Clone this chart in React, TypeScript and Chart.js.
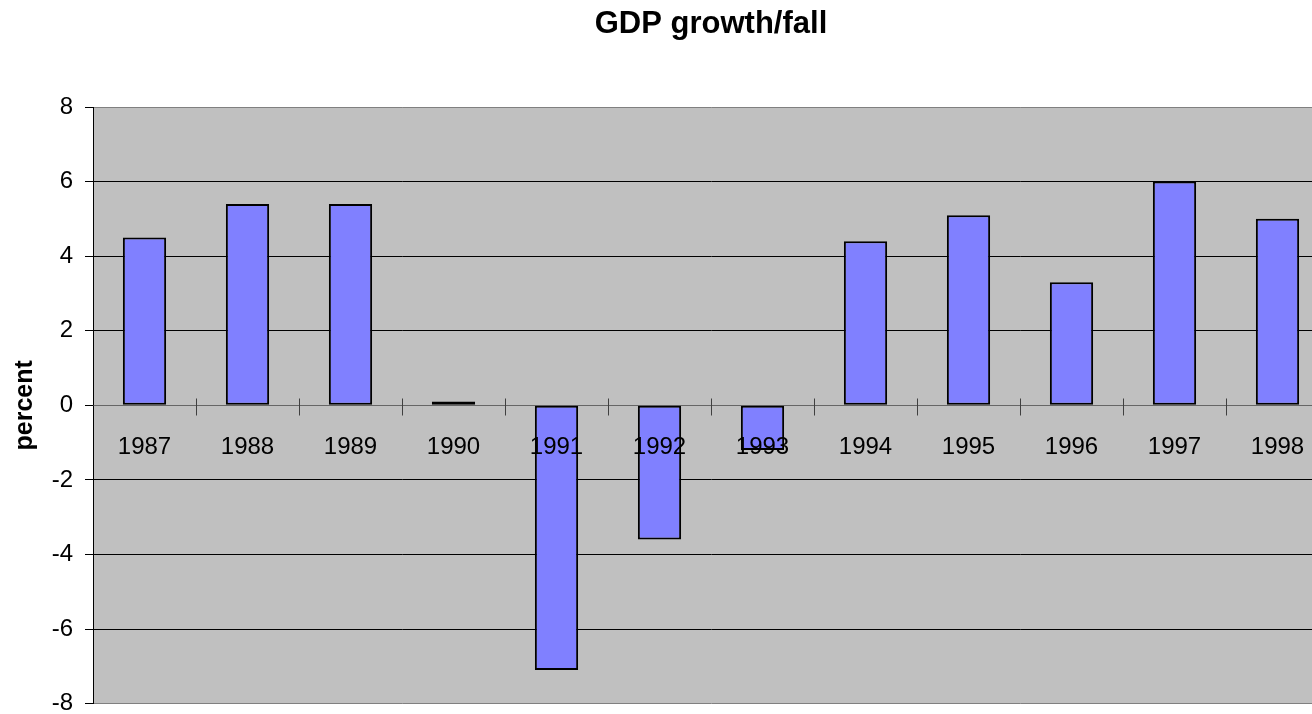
import React, { useEffect, useRef } from "react";
import { Chart, registerables } from "chart.js";

Chart.register(...registerables);

// Annual GDP change, percent
const years: string[] = ["1987", "1988", "1989", "1990", "1991", "1992", "1993", "1994", "1995", "1996", "1997", "1998"];
const growth: number[] = [4.5, 5.4, 5.4, 0.1, -7.1, -3.6, -1.2, 4.4, 5.1, 3.3, 6.0, 5.0];
const yMin = -8;
const yMax = 8;
const yStep = 2;

const FONT = "'Liberation Sans', Arial, Helvetica, sans-serif";
const CANVAS_W = 1340;
const CANVAS_H = 730;

// grey plot background
const plotBackground = {
  id: "plotBackground",
  beforeDraw(chart: any) {
    const { ctx, chartArea } = chart;
    ctx.save();
    ctx.fillStyle = "#C0C0C0";
    ctx.fillRect(chartArea.left, chartArea.top, chartArea.right - chartArea.left, chartArea.bottom - chartArea.top);
    ctx.restore();
  },
};

// tick marks between categories, crossing the zero line
const crossTicks = {
  id: "crossTicks",
  afterDatasetsDraw(chart: any) {
    const { ctx } = chart;
    const x = chart.scales.x;
    const y = chart.scales.y;
    const y0 = Math.round(y.getPixelForValue(0)) + 0.5;
    ctx.save();
    ctx.strokeStyle = "#404040";
    ctx.lineWidth = 1;
    for (let i = 1; i < years.length; i++) {
      const px = Math.round((x.getPixelForValue(i - 1) + x.getPixelForValue(i)) / 2) + 0.5;
      ctx.beginPath();
      ctx.moveTo(px, y0 - 7);
      ctx.lineTo(px, y0 + 10);
      ctx.stroke();
    }
    ctx.restore();
  },
};

export default function App() {
  const canvasRef = useRef<HTMLCanvasElement | null>(null);

  useEffect(() => {
    const canvas = canvasRef.current;
    if (!canvas) return;
    const chart = new Chart(canvas, {
      type: "bar",
      data: {
        labels: years,
        datasets: [
          {
            label: "GDP growth/fall",
            data: growth,
            backgroundColor: "#8080FF",
            borderColor: "#000000",
            borderWidth: 2,
            borderSkipped: false,
            categoryPercentage: 1,
            barPercentage: 0.42,
          },
        ],
      },
      options: {
        responsive: false,
        animation: false,
        devicePixelRatio: 1,
        layout: { padding: { left: 0, right: CANVAS_W - 1329, top: 0, bottom: CANVAS_H - 706 } },
        plugins: {
          legend: { display: false },
          tooltip: { enabled: false },
          title: {
            display: true,
            fullSize: false,
            text: "GDP growth/fall",
            color: "#000000",
            font: { family: FONT, size: 31, weight: "bold" },
            padding: { top: 6, bottom: 63.8 },
          },
        },
        scales: {
          x: {
            type: "category",
            position: { y: 0 } as any,
            offset: true,
            grid: { display: false, drawTicks: false },
            border: { display: false },
            ticks: {
              z: 1,
              color: "#000000",
              font: { family: FONT, size: 24 },
              padding: 28,
              maxRotation: 0,
              autoSkip: false,
            },
          },
          y: {
            min: yMin,
            max: yMax,
            afterFit(scale: any) {
              scale.width = 93;
            },
            ticks: {
              stepSize: yStep,
              color: "#000000",
              font: { family: FONT, size: 24 },
              padding: 12,
            },
            grid: {
              color: (ctx: any) => {
                const v = ctx.tick ? ctx.tick.value : null;
                if (v === 0) return "#666666";
                if (v === yMin || v === yMax) return "#808080";
                return "#000000";
              },
              tickColor: "#000000",
              tickLength: 8,
              lineWidth: 1,
            },
            border: { display: true, color: "#000000", width: 1 },
            title: {
              display: true,
              text: "percent",
              color: "#000000",
              font: { family: FONT, size: 25, weight: "bold" },
              padding: { top: 10, bottom: 0 },
            },
          },
        },
      },
      plugins: [plotBackground, crossTicks],
    });
    return () => chart.destroy();
  }, []);

  return (
    <div style={{ position: "fixed", left: 0, top: 0, width: CANVAS_W, height: CANVAS_H, background: "#FFFFFF" }}>
      <canvas ref={canvasRef} width={CANVAS_W} height={CANVAS_H} style={{ width: CANVAS_W, height: CANVAS_H, display: "block" }} />
    </div>
  );
}
